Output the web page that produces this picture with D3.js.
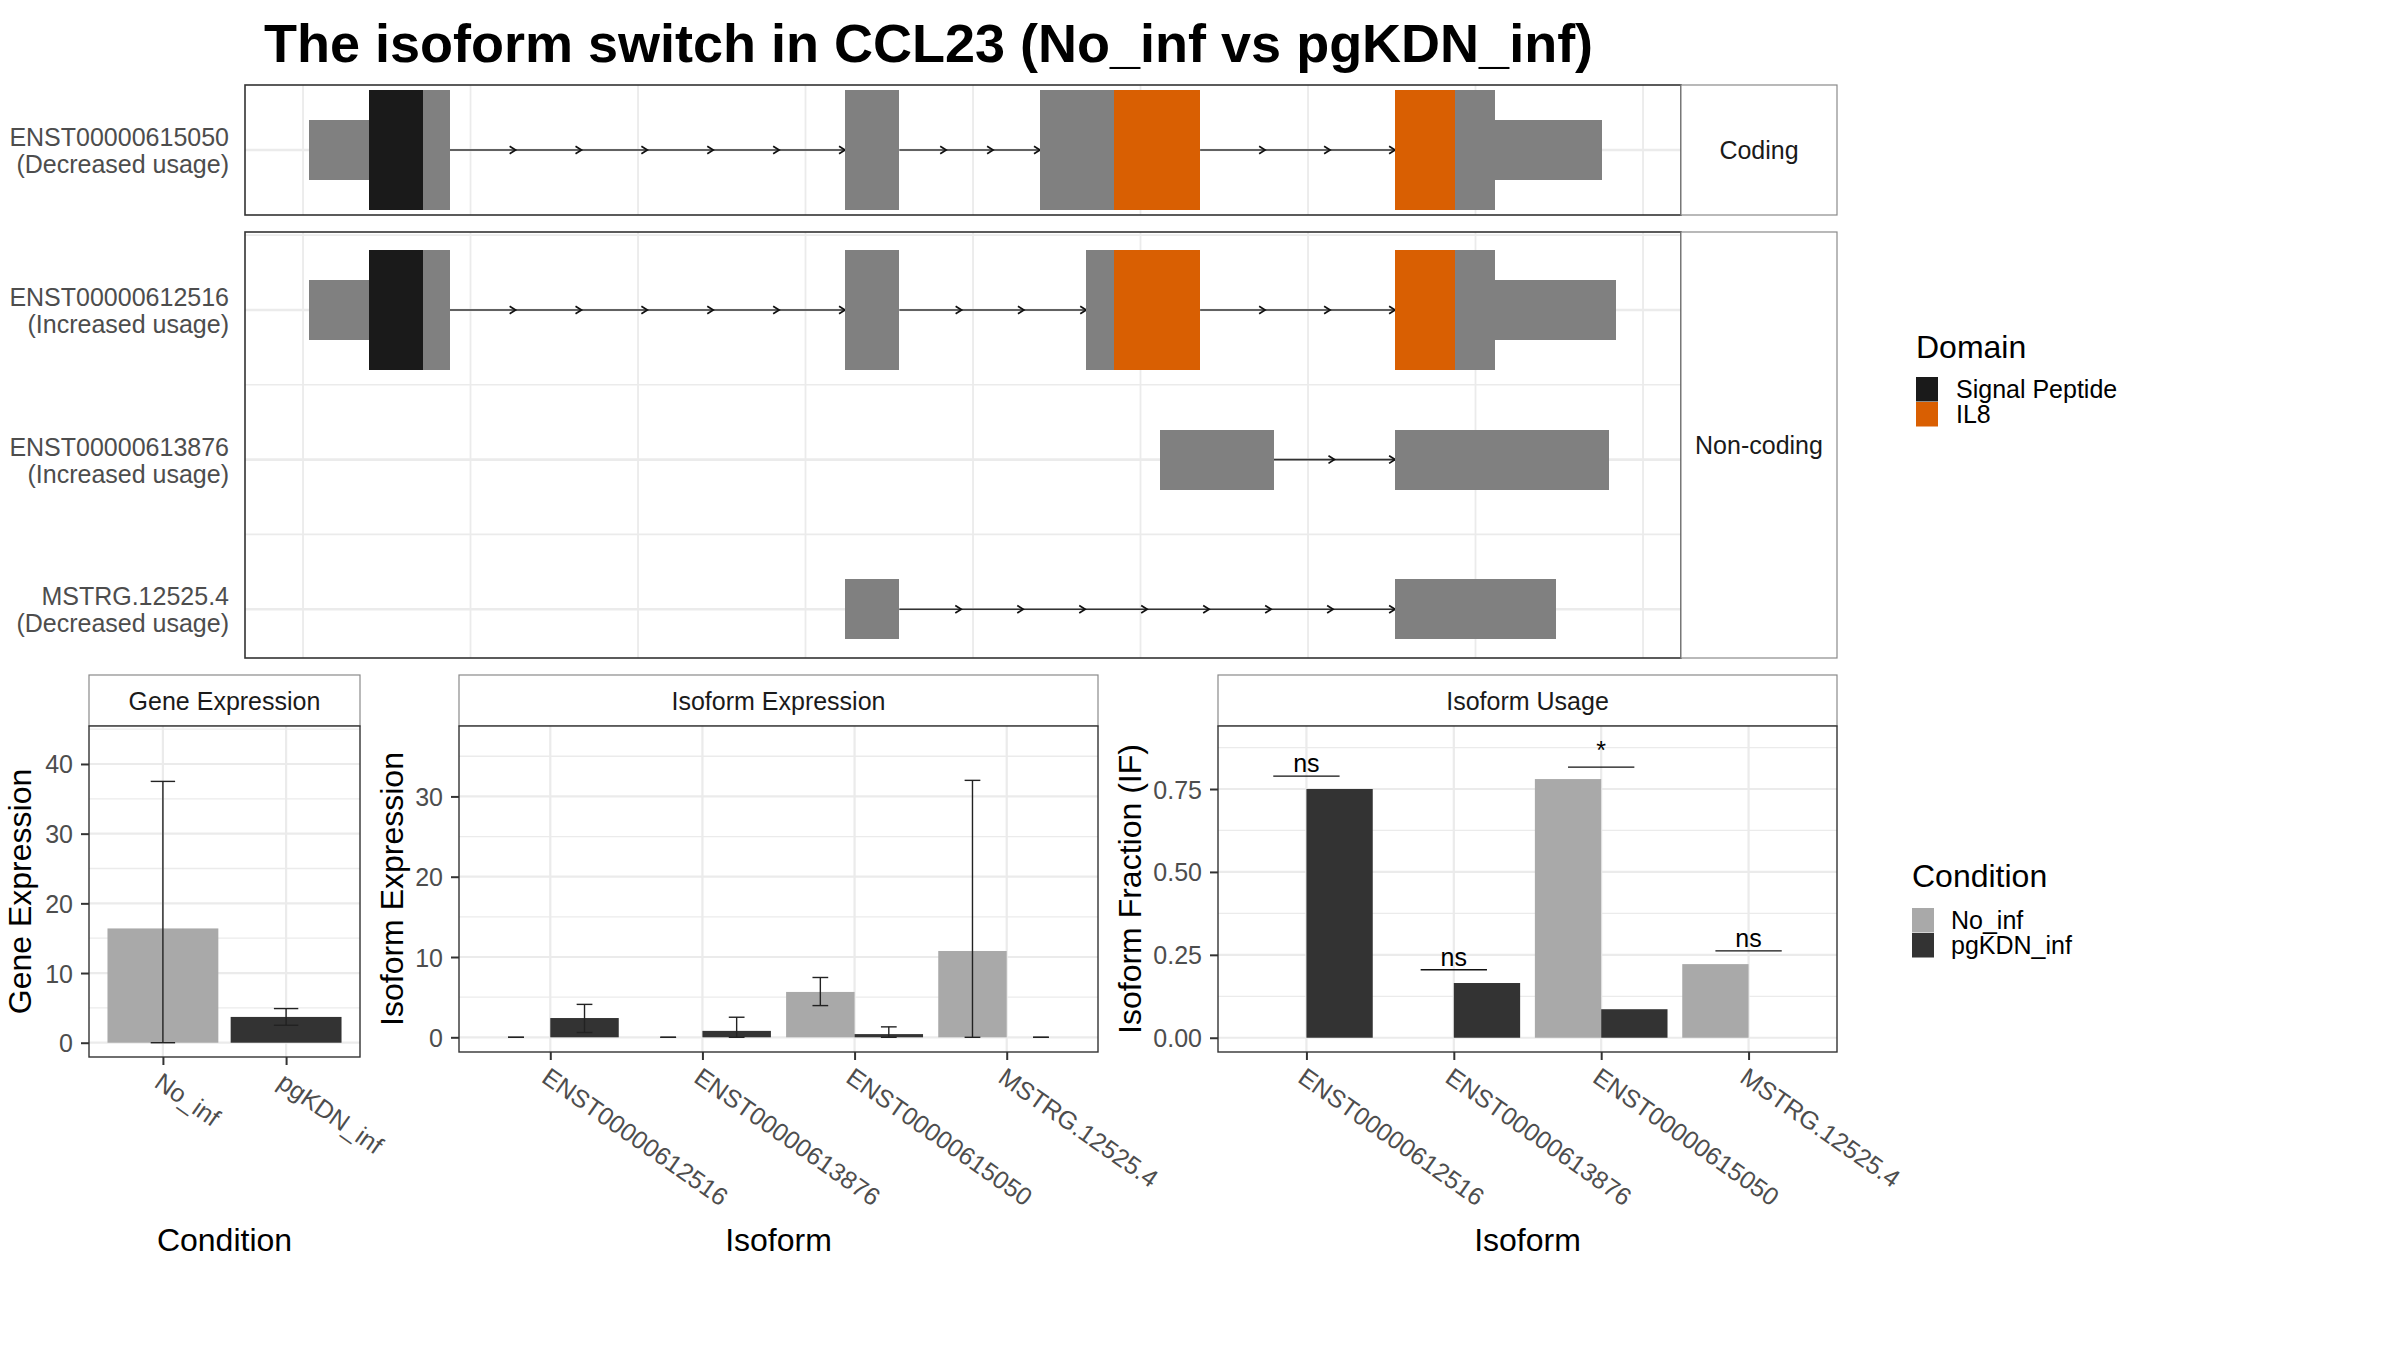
<!DOCTYPE html>
<html><head><meta charset="utf-8">
<script src="https://cdn.jsdelivr.net/npm/d3@7"></script>
<style>
body{margin:0;background:#fff}
text{font-family:"Liberation Sans",Arial,Helvetica,sans-serif}
</style>
</head><body>
<svg id="c" width="2400" height="1350" xmlns="http://www.w3.org/2000/svg"></svg>
<script>
// ================= DATA =================
const titleText = "The isoform switch in CCL23 (No_inf vs pgKDN_inf)";

// transcript structure (relative genomic coordinates)
const transcripts = ["ENST00000615050", "ENST00000612516", "ENST00000613876", "MSTRG.12525.4"];
const usageLabels = ["(Decreased usage)", "(Increased usage)", "(Increased usage)", "(Decreased usage)"];
const transcriptGroup = ["Coding", "Non-coding", "Non-coding", "Non-coding"];
const features_ENST00000615050 = [[259,349,"UTR"],[349,429,"Signal Peptide"],[429,469,"CDS"],[1059,1140,"CDS"],[1350,1460,"CDS"],[1460,1589,"IL8"],[1880,1969,"IL8"],[1969,2029,"CDS"],[2029,2189,"UTR"]];
const features_ENST00000612516 = [[259,349,"UTR"],[349,429,"Signal Peptide"],[429,469,"CDS"],[1059,1140,"CDS"],[1419,1460,"CDS"],[1460,1589,"IL8"],[1880,1969,"IL8"],[1969,2029,"CDS"],[2029,2210,"UTR"]];
const features_ENST00000613876 = [[1529,1699,"NC"],[1880,2199,"NC"]];
const features_MSTRG_12525_4  = [[1059,1140,"NC"],[1880,2120,"NC"]];
const intronArrows_ENST00000615050 = [6,3,3];
const intronArrows_ENST00000612516 = [6,3,3];
const intronArrows_ENST00000613876 = [2];
const intronArrows_MSTRG_12525_4  = [8];
const genomeGridBreaks = [250,500,750,1000,1250,1500,1750,2000,2250];
const domainNames = ["Signal Peptide", "IL8"];

// expression / usage
const conditions = ["No_inf", "pgKDN_inf"];
const geneExpr     = [16.4, 3.7];
const geneExprLow  = [0, 2.5];
const geneExprHigh = [37.5, 4.9];
const geneTicks = [0, 10, 20, 30, 40];

const isoforms = ["ENST00000612516", "ENST00000613876", "ENST00000615050", "MSTRG.12525.4"];
const isoExpr_No_inf          = [0, 0, 5.65, 10.75];
const isoExprLow_No_inf       = [0, 0, 3.95, 0];
const isoExprHigh_No_inf      = [0, 0, 7.45, 32.0];
const isoExpr_pgKDN_inf       = [2.4, 0.8, 0.4, 0];
const isoExprLow_pgKDN_inf    = [0.6, 0, 0, 0];
const isoExprHigh_pgKDN_inf   = [4.1, 2.5, 1.3, 0];
const isoExprTicks = [0, 10, 20, 30];

const isoFrac_No_inf    = [0, 0, 0.78, 0.222];
const isoFrac_pgKDN_inf = [0.75, 0.165, 0.086, 0];
const sigLabels = ["ns", "ns", "*", "ns"];
const sigLineY  = [0.789, 0.205, 0.816, 0.262];
const usageTicks = [0, 0.25, 0.5, 0.75];

// ================= STYLE =================
const GRID = "#EBEBEB";
const condColor = {"No_inf": "#A9A9A9", "pgKDN_inf": "#333333"};
const featColor = {"UTR": "#808080", "CDS": "#808080", "NC": "#808080", "Signal Peptide": "#1A1A1A", "IL8": "#D95F02"};
const featHeight = {"UTR": 0.4, "CDS": 0.8, "NC": 0.4, "Signal Peptide": 0.8, "IL8": 0.8};

const svg = d3.select("#c");

// Title
svg.append("text").attr("x", 264).attr("y", 62)
  .attr("font-size", 54).attr("font-weight", "bold").attr("fill", "#000")
  .text(titleText);

// ================= TOP: transcript structures =================
const featureSets = [features_ENST00000615050, features_ENST00000612516, features_ENST00000613876, features_MSTRG_12525_4];
const arrowSets = [intronArrows_ENST00000615050, intronArrows_ENST00000612516, intronArrows_ENST00000613876, intronArrows_MSTRG_12525_4];

const xg = d3.scaleLinear().domain([163.4, 2306.7]).range([245, 1681]);
const facetDefs = [
  {name: "Coding", y: d3.scaleLinear().domain([0.5655, 1.4345]).range([85, 215])},
  {name: "Non-coding", y: d3.scaleLinear().domain([0.479, 3.326]).range([232, 658])}
];

facetDefs.forEach(f => {
  const members = transcripts.map((t, i) => i).filter(i => transcriptGroup[i] === f.name);
  const [yt, yb] = f.y.range();
  const g = svg.append("g");
  const [xl, xr] = xg.range();
  g.append("rect").attr("x", xl).attr("y", yt).attr("width", xr - xl).attr("height", yb - yt).attr("fill", "#fff");
  // vertical grid
  g.selectAll(null).data(genomeGridBreaks).enter().append("line")
    .attr("x1", d => xg(d)).attr("x2", d => xg(d)).attr("y1", yt).attr("y2", yb)
    .attr("stroke", GRID).attr("stroke-width", 1.8);
  // horizontal grid: major (rows) and minor (between rows)
  const [d0, d1] = f.y.domain();
  const majors = d3.range(Math.ceil(d0), Math.floor(d1) + 1);
  const minors = d3.range(Math.ceil(d0 - 0.5) + 0.5, d1, 1).filter(v => v > d0 && v < d1);
  g.selectAll(null).data(minors).enter().append("line")
    .attr("x1", xl).attr("x2", xr).attr("y1", d => f.y(d)).attr("y2", d => f.y(d))
    .attr("stroke", GRID).attr("stroke-width", 1.6);
  g.selectAll(null).data(majors).enter().append("line")
    .attr("x1", xl).attr("x2", xr).attr("y1", d => f.y(d)).attr("y2", d => f.y(d))
    .attr("stroke", GRID).attr("stroke-width", 2.6);

  members.forEach((ti, k) => {
    const row = k + 1;
    const yc = f.y(row);
    const feats = featureSets[ti];
    // merge contiguous features into exons
    const exons = [];
    feats.forEach(([s, e]) => {
      if (exons.length && exons[exons.length - 1][1] === s) exons[exons.length - 1][1] = e;
      else exons.push([s, e]);
    });
    // introns with arrows
    for (let j = 0; j < exons.length - 1; j++) {
      const s = exons[j][1], e = exons[j + 1][0];
      g.append("line").attr("x1", xg(s)).attr("x2", xg(e)).attr("y1", yc).attr("y2", yc)
        .attr("stroke", "#333").attr("stroke-width", 1.6);
      const n = arrowSets[ti][j];
      for (let a = 1; a <= n; a++) {
        const ax = xg(s + (e - s) * a / n);
        g.append("path").attr("d", `M${ax - 6},${yc - 3.8} L${ax},${yc} L${ax - 6},${yc + 3.8}`)
          .attr("fill", "none").attr("stroke", "#111").attr("stroke-width", 1.7);
      }
    }
    // features
    const unit = Math.abs(f.y(1) - f.y(0));
    g.selectAll(null).data(feats).enter().append("rect")
      .attr("x", d => xg(d[0])).attr("width", d => xg(d[1]) - xg(d[0]))
      .attr("y", d => yc - featHeight[d[2]] * unit / 2)
      .attr("height", d => featHeight[d[2]] * unit)
      .attr("fill", d => featColor[d[2]]).attr("shape-rendering", "crispEdges");
    // y labels
    const lab = svg.append("text").attr("text-anchor", "end").attr("font-size", 25).attr("fill", "#4D4D4D");
    lab.append("tspan").attr("x", 229).attr("y", yc - 4).text(transcripts[ti]);
    lab.append("tspan").attr("x", 229).attr("y", yc + 23).text(usageLabels[ti]);
  });
  g.append("rect").attr("x", xl).attr("y", yt).attr("width", xr - xl).attr("height", yb - yt)
    .attr("fill", "none").attr("stroke", "#333").attr("stroke-width", 1.6);
  // strip on right
  g.append("rect").attr("x", xr).attr("y", yt).attr("width", 1837 - xr).attr("height", yb - yt)
    .attr("fill", "#fff").attr("stroke", "#8A8A8A").attr("stroke-width", 1.2);
  g.append("text").attr("x", (xr + 1837) / 2).attr("y", (yt + yb) / 2 + 9)
    .attr("text-anchor", "middle").attr("font-size", 25).attr("fill", "#1A1A1A").text(f.name);
});

// ================= BOTTOM: bar panels =================
function barPanel(o) {
  const g = svg.append("g");
  const x = d3.scalePoint().domain(o.cats).range([o.x0, o.x1]).padding(0.6);
  const y = d3.scaleLinear().domain(o.yDomain).range([o.y1, o.y0]);
  // strip
  g.append("rect").attr("x", o.x0).attr("y", 675).attr("width", o.x1 - o.x0).attr("height", o.y0 - 675)
    .attr("fill", "#fff").attr("stroke", "#8A8A8A").attr("stroke-width", 1.2);
  g.append("text").attr("x", (o.x0 + o.x1) / 2).attr("y", (675 + o.y0) / 2 + 9)
    .attr("text-anchor", "middle").attr("font-size", 25).attr("fill", "#1A1A1A").text(o.title);
  // panel bg
  g.append("rect").attr("x", o.x0).attr("y", o.y0).attr("width", o.x1 - o.x0).attr("height", o.y1 - o.y0).attr("fill", "#fff");
  // grid
  const step = o.ticks[1] - o.ticks[0];
  const minors = d3.range(o.ticks[0] - step / 2, o.yDomain[1], step).filter(v => v > o.yDomain[0] && v < o.yDomain[1]);
  g.selectAll(null).data(minors).enter().append("line")
    .attr("x1", o.x0).attr("x2", o.x1).attr("y1", d => y(d)).attr("y2", d => y(d))
    .attr("stroke", GRID).attr("stroke-width", 1.3);
  g.selectAll(null).data(o.ticks).enter().append("line")
    .attr("x1", o.x0).attr("x2", o.x1).attr("y1", d => y(d)).attr("y2", d => y(d))
    .attr("stroke", GRID).attr("stroke-width", 2.2);
  g.selectAll(null).data(o.cats).enter().append("line")
    .attr("x1", d => x(d)).attr("x2", d => x(d)).attr("y1", o.y0).attr("y2", o.y1)
    .attr("stroke", GRID).attr("stroke-width", 2.2);
  const content = g.append("g");
  // border
  const border = () => g.append("rect").attr("x", o.x0).attr("y", o.y0).attr("width", o.x1 - o.x0).attr("height", o.y1 - o.y0)
    .attr("fill", "none").attr("stroke", "#333").attr("stroke-width", 1.4);
  // axes
  const ya = svg.append("g").attr("transform", `translate(${o.x0},0)`)
    .call(d3.axisLeft(y).tickValues(o.ticks).tickFormat(o.fmt).tickSize(8).tickPadding(8));
  ya.select(".domain").remove();
  ya.selectAll("line").attr("stroke", "#333").attr("stroke-width", 2);
  ya.selectAll("text").attr("font-size", 25).attr("fill", "#4D4D4D").attr("font-family", null).attr("dy", "0.36em");
  const xa = svg.append("g").attr("transform", `translate(0,${o.y1})`)
    .call(d3.axisBottom(x).tickSize(8));
  xa.select(".domain").remove();
  xa.selectAll("line").attr("stroke", "#333").attr("stroke-width", 2);
  xa.selectAll("text").attr("font-size", 25).attr("fill", "#4D4D4D").attr("font-family", null)
    .attr("text-anchor", "start").attr("x", 0).attr("y", 0).attr("dy", "0.73em")
    .attr("transform", "translate(0,14) rotate(35)");
  // titles
  svg.append("text").attr("text-anchor", "middle").attr("font-size", 32).attr("fill", "#000")
    .attr("transform", `translate(${o.ytx},${(o.y0 + o.y1) / 2}) rotate(-90)`).text(o.yTitle);
  svg.append("text").attr("text-anchor", "middle").attr("font-size", 32).attr("fill", "#000")
    .attr("x", (o.x0 + o.x1) / 2).attr("y", 1251).text(o.xTitle);
  return {g: content, x, y, step: x.step(), border};
}

function errorbars(g, xs, lows, highs, w) {
  xs.forEach((xc, i) => {
    const [lo, hi] = [lows[i], highs[i]];
    g.append("line").attr("x1", xc).attr("x2", xc).attr("y1", lo).attr("y2", hi).attr("stroke", "#222").attr("stroke-width", 1.4);
    g.append("line").attr("x1", xc - w / 2).attr("x2", xc + w / 2).attr("y1", lo).attr("y2", lo).attr("stroke", "#222").attr("stroke-width", 1.4);
    g.append("line").attr("x1", xc - w / 2).attr("x2", xc + w / 2).attr("y1", hi).attr("y2", hi).attr("stroke", "#222").attr("stroke-width", 1.4);
  });
}

// --- Gene Expression
{
  const p = barPanel({x0: 89, x1: 360, y0: 726, y1: 1057, cats: conditions, yDomain: [-2.05, 45.45],
    ticks: geneTicks, fmt: d3.format("d"), title: "Gene Expression", yTitle: "Gene Expression", xTitle: "Condition", ytx: 31});
  const bw = p.step * 0.9;
  p.g.selectAll(null).data(conditions).enter().append("rect")
    .attr("x", d => p.x(d) - bw / 2).attr("width", bw)
    .attr("y", (d, i) => p.y(geneExpr[i])).attr("height", (d, i) => p.y(0) - p.y(geneExpr[i]))
    .attr("fill", d => condColor[d]);
  errorbars(p.g, conditions.map(d => p.x(d)), geneExprLow.map(v => p.y(v)), geneExprHigh.map(v => p.y(v)), bw * 0.22);
  p.border();
}

// --- Isoform Expression
{
  const p = barPanel({x0: 459, x1: 1098, y0: 726, y1: 1052, cats: isoforms, yDomain: [-1.83, 38.77],
    ticks: isoExprTicks, fmt: d3.format("d"), title: "Isoform Expression", yTitle: "Isoform Expression", xTitle: "Isoform", ytx: 403});
  const bw = p.step * 0.45;
  const series = [
    {c: "No_inf", v: isoExpr_No_inf, lo: isoExprLow_No_inf, hi: isoExprHigh_No_inf, off: -0.5},
    {c: "pgKDN_inf", v: isoExpr_pgKDN_inf, lo: isoExprLow_pgKDN_inf, hi: isoExprHigh_pgKDN_inf, off: 0.5}
  ];
  series.forEach(s => {
    p.g.selectAll(null).data(isoforms).enter().append("rect")
      .attr("x", d => p.x(d) + s.off * bw - bw / 2).attr("width", bw)
      .attr("y", (d, i) => p.y(s.v[i])).attr("height", (d, i) => p.y(0) - p.y(s.v[i]))
      .attr("fill", condColor[s.c]);
  });
  series.forEach(s => {
    errorbars(p.g, isoforms.map(d => p.x(d) + s.off * bw), s.lo.map(v => p.y(v)), s.hi.map(v => p.y(v)), bw * 0.23);
  });
  p.border();
}

// --- Isoform Usage
{
  const p = barPanel({x0: 1218, x1: 1837, y0: 726, y1: 1052, cats: isoforms, yDomain: [-0.043, 0.940],
    ticks: usageTicks, fmt: d3.format(".2f"), title: "Isoform Usage", yTitle: "Isoform Fraction (IF)", xTitle: "Isoform", ytx: 1141});
  const bw = p.step * 0.45;
  const series = [
    {c: "No_inf", v: isoFrac_No_inf, off: -0.5},
    {c: "pgKDN_inf", v: isoFrac_pgKDN_inf, off: 0.5}
  ];
  series.forEach(s => {
    p.g.selectAll(null).data(isoforms).enter().append("rect")
      .attr("x", d => p.x(d) + s.off * bw - bw / 2).attr("width", bw)
      .attr("y", (d, i) => p.y(s.v[i])).attr("height", (d, i) => p.y(0) - p.y(s.v[i]))
      .attr("fill", condColor[s.c]);
  });
  isoforms.forEach((d, i) => {
    const yl = p.y(sigLineY[i]);
    p.g.append("line").attr("x1", p.x(d) - bw / 2).attr("x2", p.x(d) + bw / 2).attr("y1", yl).attr("y2", yl)
      .attr("stroke", "#111").attr("stroke-width", 1.3);
    p.g.append("text").attr("x", p.x(d)).attr("y", sigLabels[i] === "*" ? yl - 8 : yl - 4)
      .attr("text-anchor", "middle").attr("font-size", 25).attr("fill", "#000").text(sigLabels[i]);
  });
  p.border();
}

// ================= LEGENDS =================
function legend(x, titleY, keyY, names, colors, labelX) {
  svg.append("text").attr("x", x).attr("y", titleY).attr("font-size", 32).attr("fill", "#000")
    .text(names.title);
  names.items.forEach((n, i) => {
    svg.append("rect").attr("x", x).attr("y", keyY + i * 25).attr("width", 22).attr("height", 24.5)
      .attr("fill", colors[i]);
    svg.append("text").attr("x", labelX).attr("y", keyY + i * 25 + 12 + 9).attr("font-size", 25).attr("fill", "#000").text(n);
  });
}
legend(1916, 358, 377, {title: "Domain", items: domainNames}, domainNames.map(d => featColor[d]), 1956);
legend(1912, 887, 908, {title: "Condition", items: conditions}, conditions.map(d => condColor[d]), 1951);
</script>
</body></html>
